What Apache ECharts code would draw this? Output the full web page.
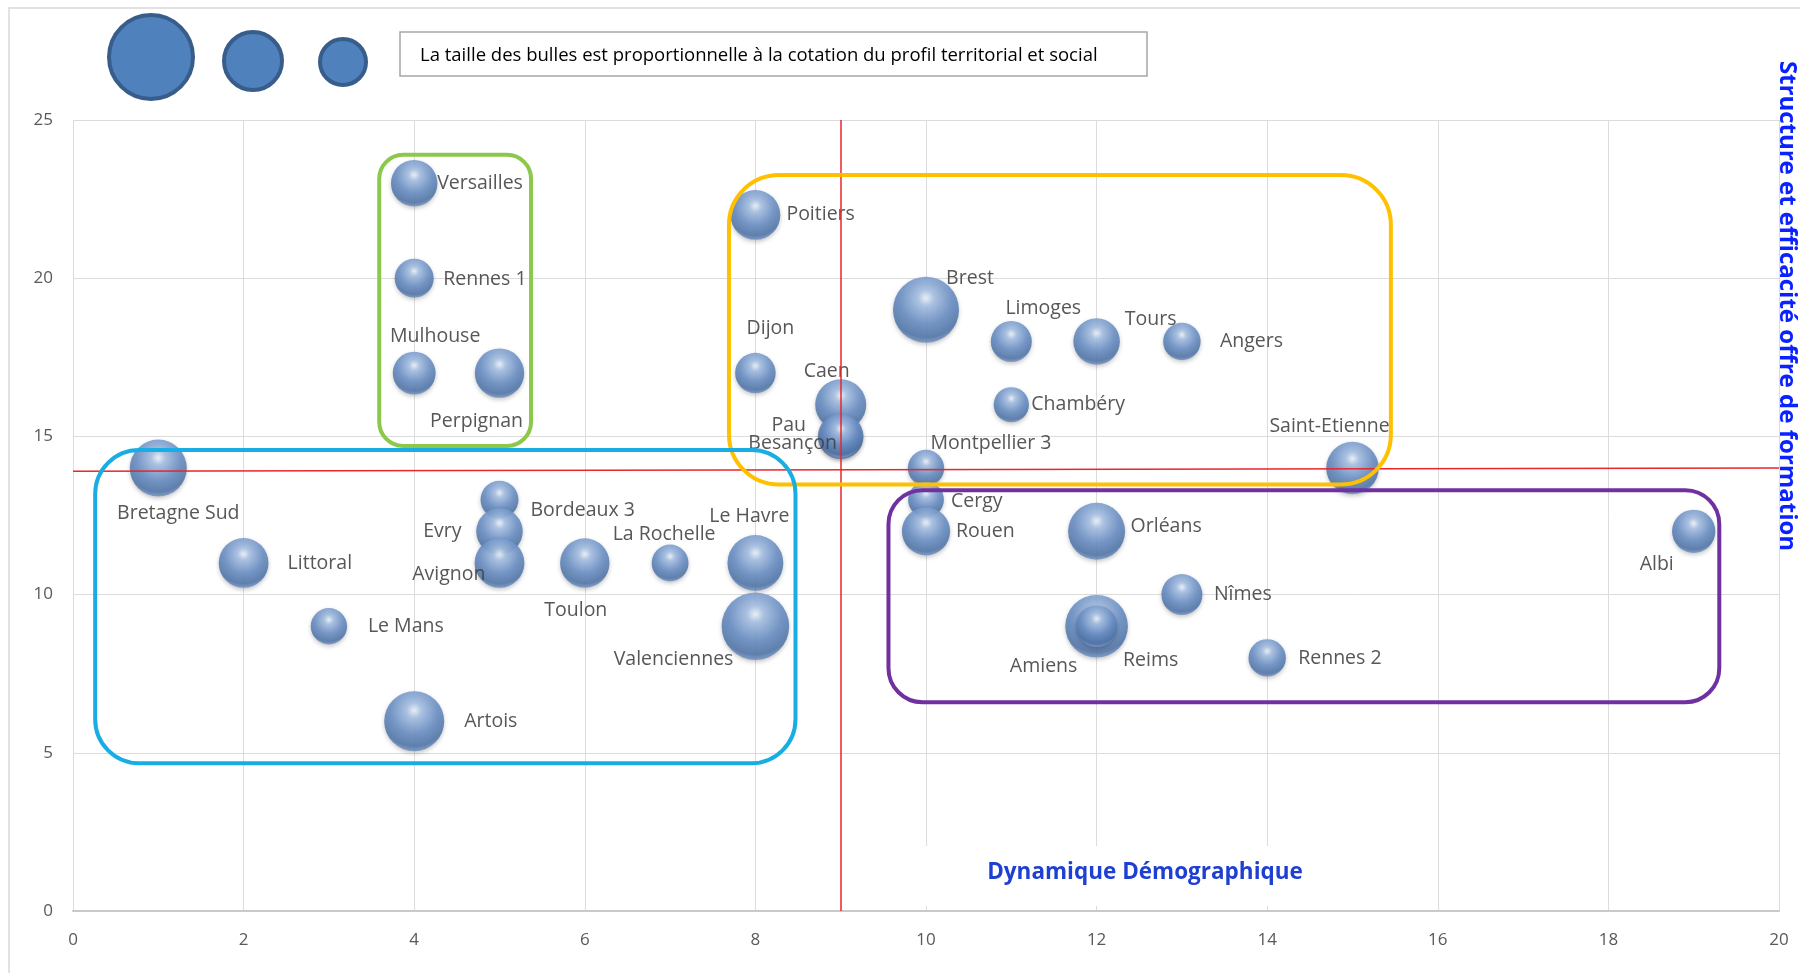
<!DOCTYPE html>
<html>
<head>
<meta charset="utf-8">
<script src="https://cdn.jsdelivr.net/npm/echarts@6/dist/echarts.min.js"></script>
<style>
html,body{margin:0;padding:0;background:#fff;}
#chart{width:1800px;height:973px;}
</style>
</head>
<body>
<div id="chart"></div>
<script>
// ---- Data ----
const names = ['Versailles','Rennes 1','Mulhouse','Perpignan','Bretagne Sud','Littoral','Le Mans','Artois',
  'Bordeaux 3','Evry','Avignon','Toulon','La Rochelle','Le Havre','Valenciennes','Poitiers','Dijon','Caen',
  'Besançon','Pau','Brest','Montpellier 3','Cergy','Rouen','Limoges','Chambéry','Tours','Orléans','Amiens',
  'Reims','Angers','Nîmes','Rennes 2','Saint-Etienne','Albi'];
const demographie = [4,4,4,5,1,2,3,4,5,5,5,6,7,8,8,8,8,9,9,9,10,10,10,10,11,11,12,12,12,12,13,13,14,15,19];
const structure   = [23,20,17,17,14,11,9,6,13,12,11,11,11,11,9,22,17,16,15,15,19,14,13,12,18,16,18,12,9,9,18,10,8,14,12];
const cotation    = [5.4,3.8,4.6,6.1,8.1,6.2,3.3,9,3.6,5.4,6.2,6.1,3.4,7.8,11.4,6.2,4.1,6.5,5.2,4.6,10.9,3.3,3.2,5.8,4.2,3.1,5.4,8.1,9.8,4.3,3.5,4.2,3.5,6.9,4.7];

const xTicks = [0,2,4,6,8,10,12,14,16,18,20];
const yTicks = [0,5,10,15,20,25];
const xMedian = 9;
const yMedianStart = 13.9, yMedianEnd = 14.0;

const groupX1 = [3.59, 7.69, 0.26, 9.56];
const groupY1 = [14.7, 13.48, 4.67, 6.6];
const groupX2 = [5.37, 15.45, 8.47, 19.3];
const groupY2 = [23.9, 23.26, 14.57, 13.3];

const xTitle = 'Dynamique Démographique';
const yTitle = 'Structure et efficacité offre de formation';
const noteText = 'La taille des bulles est proportionnelle à la cotation du profil territorial et social';

// ---- Styles / placement (not data) ----
const groupStyle = [
  {stroke:'#8cc84b', r:24},
  {stroke:'#ffc000', r:50},
  {stroke:'#19ade5', r:44},
  {stroke:'#7030a0', r:34}
];
const labelPlace = {
  'Versailles':['left',23,0], 'Rennes 1':['left',29,1], 'Mulhouse':['center',21,-37], 'Perpignan':['center',-23,48],
  'Bretagne Sud':['center',20,45], 'Littoral':['left',44,0], 'Le Mans':['left',39,0], 'Artois':['left',50,0],
  'Bordeaux 3':['left',31,11], 'Evry':['right',-38,0], 'Avignon':['right',-14,11], 'Toulon':['center',-9,47],
  'La Rochelle':['center',-6,-29], 'Le Havre':['center',-6,-47], 'Valenciennes':['right',-22,33],
  'Poitiers':['left',31,0], 'Dijon':['center',15,-45], 'Caen':['center',-14,-33], 'Pau':['center',-52,-11],
  'Besançon':['center',-48,7], 'Brest':['center',44,-31], 'Limoges':['center',32,-33], 'Tours':['center',54,-22],
  'Angers':['left',38,0], 'Chambéry':['left',20,0], 'Montpellier 3':['center',65,-25], 'Cergy':['left',25,2],
  'Rouen':['left',30,0], 'Orléans':['left',34,-5], 'Nîmes':['left',32,0], 'Amiens':['center',-53,40],
  'Reims':['center',54,34], 'Rennes 2':['left',31,1], 'Saint-Etienne':['center',-23,-42], 'Albi':['center',-37,33]
};
const FONT = '"Open Sans", "Noto Sans", sans-serif';

const bubbleFill = new echarts.graphic.RadialGradient(0.5, 0.32, 0.7, [
  {offset:0, color:'#eef4fb'},
  {offset:0.18, color:'#a6c0e4'},
  {offset:0.55, color:'#6a8fc5'},
  {offset:0.85, color:'#5175a8'},
  {offset:1, color:'#829fca'}
]);

const scatterData = names.map((n,i) => {
  const p = labelPlace[n] || ['left',30,0];
  return {
    name:n,
    value:[demographie[i], structure[i], cotation[i]],
    label:{align:p[0], offset:[p[1],p[2]]}
  };
});

const boxes = groupX1.map((x,i) => [x, groupY1[i], groupX2[i], groupY2[i], i]);

const chart = echarts.init(document.getElementById('chart'), null, {renderer:'canvas'});
chart.setOption({
  backgroundColor:'#fff',
  animation:false,
  grid:{left:73, right:21, top:120, bottom:62},
  xAxis:{
    type:'value', min:xTicks[0], max:xTicks[xTicks.length-1], interval:2,
    axisLine:{show:true, lineStyle:{color:'#c9c9c9', width:2}},
    axisTick:{show:false},
    axisLabel:{color:'#595959', fontSize:17, fontFamily:FONT, margin:21},
    splitLine:{show:true, lineStyle:{color:'#dcdcdc', width:1}}
  },
  yAxis:{
    type:'value', min:yTicks[0], max:yTicks[yTicks.length-1], interval:5,
    axisLine:{show:false}, axisTick:{show:false},
    axisLabel:{color:'#595959', fontSize:17, fontFamily:FONT, margin:20},
    splitLine:{show:true, lineStyle:{color:'#dcdcdc', width:1}}
  },
  series:[
    {
      type:'scatter',
      data:scatterData,
      symbol:'circle',
      symbolSize:(v)=>20*Math.sqrt(v[2]),
      itemStyle:{color:bubbleFill, opacity:0.88, shadowBlur:4, shadowColor:'rgba(0,0,0,0.25)', shadowOffsetY:2},
      label:{show:true, position:'inside', formatter:'{b}', color:'#404040', fontSize:19.5, fontFamily:FONT},
      z:3,
      markLine:{
        silent:true, symbol:'none', label:{show:false},
        lineStyle:{color:'#e8262b', width:1.5, type:'solid'},
        data:[
          [{coord:[xMedian,yTicks[0]]},{coord:[xMedian,yTicks[yTicks.length-1]]}],
          [{coord:[xTicks[0],yMedianStart]},{coord:[xTicks[xTicks.length-1],yMedianEnd]}]
        ]
      }
    },
    {
      type:'custom',
      data:boxes,
      encode:{x:[0,2], y:[1,3]},
      z:5,
      silent:true,
      renderItem:(params, api) => {
        const a = api.coord([api.value(0), api.value(3)]);
        const b = api.coord([api.value(2), api.value(1)]);
        const st = groupStyle[api.value(4)];
        return {
          type:'rect',
          shape:{x:a[0], y:a[1], width:b[0]-a[0], height:b[1]-a[1], r:st.r},
          style:{fill:null, stroke:st.stroke, lineWidth:4}
        };
      }
    }
  ],
  graphic:[
    {type:'rect', z:-10, shape:{x:9, y:8, width:1900, height:1100}, style:{fill:null, stroke:'#d9d9d9', lineWidth:1.5}},
    {type:'circle', z:100, shape:{cx:151, cy:57, r:42}, style:{fill:'#4f81bd', stroke:'#385d8a', lineWidth:4}},
    {type:'circle', z:100, shape:{cx:253, cy:61, r:29}, style:{fill:'#4f81bd', stroke:'#385d8a', lineWidth:4}},
    {type:'circle', z:100, shape:{cx:343, cy:62, r:23}, style:{fill:'#4f81bd', stroke:'#385d8a', lineWidth:4}},
    {type:'rect', z:100, shape:{x:400, y:32, width:747, height:44}, style:{fill:'#fff', stroke:'#a6a6a6', lineWidth:1.5}},
    {type:'text', z:101, x:420, y:56, style:{text:noteText, fill:'#000', font:'18.5px ' + FONT, textVerticalAlign:'middle'}},
    {type:'rect', z:100, shape:{x:918, y:846, width:394, height:60}, style:{fill:'#fff'}},
    {type:'text', z:101, x:1145, y:873, style:{text:xTitle, fill:'#1f3fd3', font:'bold 22.5px ' + FONT, textAlign:'center', textVerticalAlign:'middle'}},
    {type:'text', z:101, x:1787, y:306, rotation:-Math.PI/2, style:{text:yTitle, fill:'#0a22ff', font:'bold 24px ' + FONT, textAlign:'center', textVerticalAlign:'middle'}}
  ]
});
</script>
</body>
</html>
